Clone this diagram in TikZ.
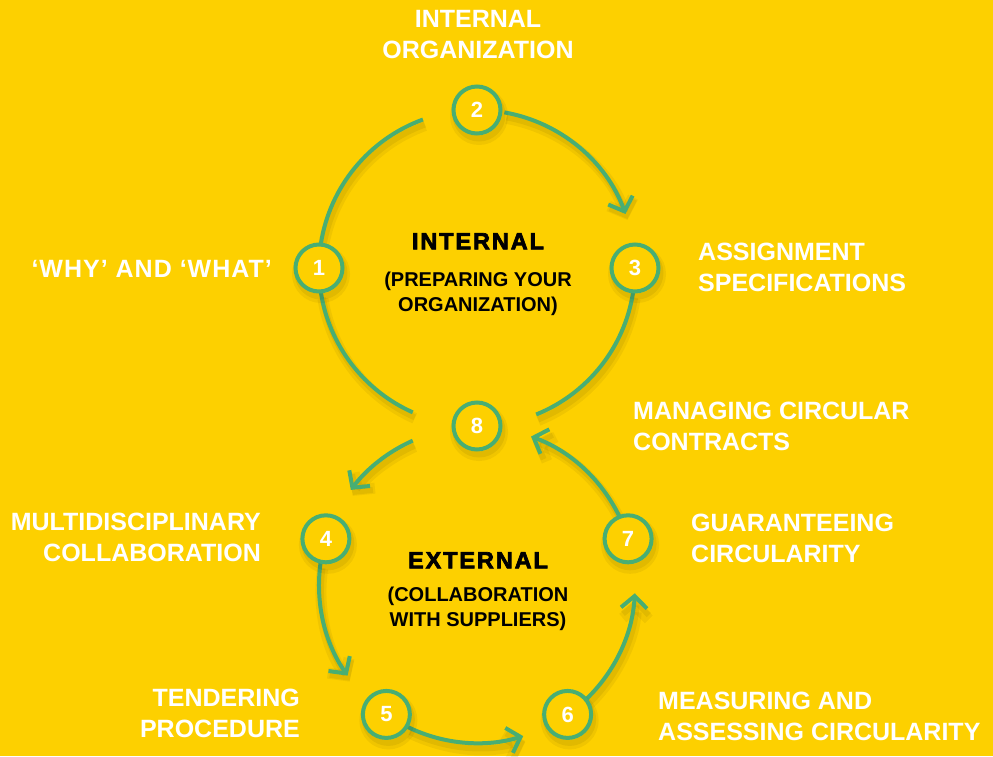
\documentclass[tikz,border=0pt]{standalone}
\usepackage{fontspec}
\setmainfont{Liberation Sans}
\newfontfamily\titlefont[LetterSpace=8,FakeBold=3]{Liberation Sans Bold}
\newfontfamily\widefont[LetterSpace=4]{Liberation Sans Bold}
\usetikzlibrary{arrows.meta}
\definecolor{bg}{HTML}{FDD000}
\definecolor{grn}{HTML}{48AE73}
\begin{document}
\begin{tikzpicture}[x=1pt,y=1pt,
 shad/.style={preaction={draw=black,draw opacity=0.05,line width=11pt,transform canvas={shift={(2pt,-6pt)}}},
              preaction={draw=black,draw opacity=0.06,line width=6pt,transform canvas={shift={(2pt,-5pt)}}}},
 num/.style={circle, draw=grn, line width=4pt, fill=bg, minimum size=47pt, inner sep=0pt, text=white,
             font=\bfseries\fontsize{22}{22}\selectfont, shad},
 lab/.style={text=white, font=\bfseries\fontsize{25}{31}\selectfont, inner sep=0pt},
 ttl/.style={text=black, font=\titlefont\fontsize{23.5}{28}\selectfont, inner sep=0pt},
 sub/.style={text=black, align=center, font=\bfseries\fontsize{20}{25}\selectfont, inner sep=0pt},
 con/.style={draw=grn, line width=4pt, shad},
 arw/.style={con, -{Straight Barb[length=12pt,width=26pt]}},
]
\fill[bg] (0,0) rectangle (993,756);
\useasboundingbox (0,0) rectangle (993,756);

\coordinate (cU) at (477,488);
\coordinate (cL) at (477,171);

% connectors (arcs) on the upper loop
\draw[con] ([shift={(171:158)}]cU) arc[start angle=171,end angle=110,radius=158];
\draw[arw] ([shift={(80:158)}]cU) arc[start angle=80,end angle=20,radius=158];
\draw[con] ([shift={(-9:158)}]cU) arc[start angle=-9,end angle=-68,radius=158];
\draw[con] ([shift={(189:158)}]cU) arc[start angle=189,end angle=246,radius=158];
% connectors on the lower loop
\draw[arw] ([shift={(114:158)}]cL) arc[start angle=114,end angle=143,radius=158];
\draw[arw] ([shift={(172:158)}]cL) arc[start angle=172,end angle=215,radius=158];
\draw[arw] ([shift={(244:158)}]cL) arc[start angle=244,end angle=287,radius=158];
\draw[arw] ([shift={(314:158)}]cL) arc[start angle=314,end angle=357,radius=158];
\draw[arw] ([shift={(26:158)}]cL) arc[start angle=26,end angle=70,radius=158];

% numbered circles
\node[num] (n1) at ([shift={(180:158)}]cU) {1};
\node[num] (n2) at ([shift={(90:158)}]cU) {2};
\node[num] (n3) at ([shift={(0:158)}]cU) {3};
\node[num] (n8) at ([shift={(270:158)}]cU) {8};
\node[num] (n4) at ([shift={(163:158)}]cL) {4};
\node[num] (n7) at ([shift={(17:158)}]cL) {7};
\node[num] (n5) at ([shift={(235:158)}]cL) {5};
\node[num] (n6) at ([shift={(305:158)}]cL) {6};

% labels
\node[lab, align=center, anchor=north] (l2) at (478,746) {INTERNAL\\ORGANIZATION};
\node[lab, anchor=north east, font=\widefont\fontsize{25}{31}\selectfont] (l1) at (272,496) {‘WHY’ AND ‘WHAT’};
\node[lab, align=left, anchor=north west] (l3) at (698,513) {ASSIGNMENT\\SPECIFICATIONS};
\node[lab, align=left, anchor=north west] (l8) at (633,354) {MANAGING CIRCULAR\\CONTRACTS};
\node[lab, align=right, anchor=north east] (l4) at (261,243) {MULTIDISCIPLINARY\\COLLABORATION};
\node[lab, align=left, anchor=north west] (l7) at (691,242) {GUARANTEEING\\CIRCULARITY};
\node[lab, align=right, anchor=north east] (l5) at (300,67) {TENDERING\\PROCEDURE};
\node[lab, align=left, anchor=north west] (l6) at (658,64) {MEASURING AND\\ASSESSING CIRCULARITY};

% centre titles
\node[ttl, anchor=north] (t1) at (478,523) {INTERNAL};
\node[sub, anchor=north] (s1) at (478,484) {(PREPARING YOUR\\ORGANIZATION)};
\node[ttl, anchor=north] (t2) at (478,204) {EXTERNAL};
\node[sub, anchor=north] (s2) at (478,169) {(COLLABORATION\\WITH SUPPLIERS)};
\end{tikzpicture}
\end{document}
